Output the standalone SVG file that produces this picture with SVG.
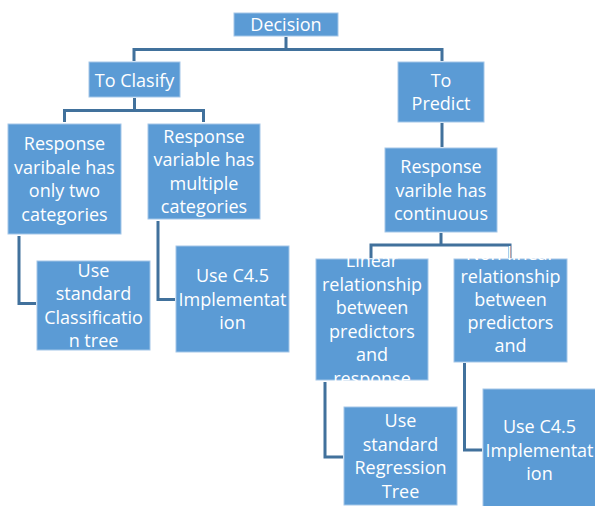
<svg xmlns="http://www.w3.org/2000/svg" width="595" height="506" viewBox="0 0 595 506">
<style>
.box{fill:#5B9BD5;stroke:#A3C6E8;stroke-width:1}
.t{font-family:"Open Sans","Liberation Sans",sans-serif;font-size:18px;fill:#FFFFFF;text-anchor:middle}
.c{fill:none;stroke:#41719C;stroke-width:3}
</style>
<rect width="595" height="506" fill="#FFFFFF"/>
<g id="connectors">
<path class="c" d="M286,37 V49.5 M134,61 V49.5 H442 V61"/>
<path class="c" d="M134.5,98 V110.5 M64.5,122 V110.5 H203.5 V122"/>
<path class="c" d="M442,123 V147"/>
<path class="c" d="M441,233 V245 M371,258 V245 H510 V258"/>
<path class="c" d="M19,236 V303.5 H36"/>
<path class="c" d="M158,221 V299.5 H175"/>
<path class="c" d="M325,382 V457 H343"/>
<path class="c" d="M464.5,363 V450 H482"/>
</g>
<g id="decision">
<rect class="box" x="234" y="13" width="104" height="23"/>
<text class="t" x="286" y="30.5">Decision</text>
</g>
<g id="to-clasify">
<rect class="box" x="89" y="62" width="91" height="35"/>
<text class="t" x="134.5" y="86.5">To Clasify</text>
</g>
<g id="to-predict">
<rect class="box" x="398" y="62" width="86" height="60"/>
<text class="t" x="441" y="86.5">To</text>
<text class="t" x="441" y="109.5">Predict</text>
</g>
<g id="two-categories">
<rect class="box" x="8" y="124" width="113" height="110"/>
<text class="t" x="64.5" y="150.25">Response</text>
<text class="t" x="64.5" y="173.75">varibale has</text>
<text class="t" x="64.5" y="197.25">only two</text>
<text class="t" x="64.5" y="220.75">categories</text>
</g>
<g id="multiple-categories">
<rect class="box" x="148" y="124" width="112" height="95"/>
<text class="t" x="204" y="142.75">Response</text>
<text class="t" x="204" y="166.25">variable has</text>
<text class="t" x="204" y="189.75">multiple</text>
<text class="t" x="204" y="213.25">categories</text>
</g>
<g id="classification-tree">
<rect class="box" x="37" y="261" width="113" height="89"/>
<text class="t" x="93.5" y="276.75">Use</text>
<text class="t" x="93.5" y="300.25">standard</text>
<text class="t" x="93.5" y="323.75">Classificatio</text>
<text class="t" x="93.5" y="347.25">n tree</text>
</g>
<g id="c45-classify">
<rect class="box" x="176" y="246" width="113" height="106"/>
<text class="t" x="232.5" y="282">Use C4.5</text>
<text class="t" x="232.5" y="305.5">Implementat</text>
<text class="t" x="232.5" y="329">ion</text>
</g>
<g id="continuous">
<rect class="box" x="385" y="148" width="112" height="84"/>
<text class="t" x="441" y="173">Response</text>
<text class="t" x="441" y="196.5">varible has</text>
<text class="t" x="441" y="220">continuous</text>
</g>
<g id="linear">
<rect class="box" x="316" y="259" width="112" height="121"/>
<text class="t" x="372" y="267.25">Linear</text>
<text class="t" x="372" y="290.75">relationship</text>
<text class="t" x="372" y="314.25">between</text>
<text class="t" x="372" y="337.75">predictors</text>
<text class="t" x="372" y="361.25">and</text>
<text class="t" x="372" y="384.75">response</text>
</g>
<g id="non-linear">
<rect class="box" x="454" y="259" width="113" height="103"/>
<text class="t" x="510.5" y="259.75">Non-linear</text>
<text class="t" x="510.5" y="283.25">relationship</text>
<text class="t" x="510.5" y="306.25">between</text>
<text class="t" x="510.5" y="329.25">predictors</text>
<text class="t" x="510.5" y="352.25">and</text>
</g>
<g id="regression-tree">
<rect class="box" x="344" y="407" width="113" height="98"/>
<text class="t" x="400.5" y="427.25">Use</text>
<text class="t" x="400.5" y="450.75">standard</text>
<text class="t" x="400.5" y="474.25">Regression</text>
<text class="t" x="400.5" y="497.75">Tree</text>
</g>
<g id="c45-predict">
<rect class="box" x="483" y="389" width="113" height="122"/>
<text class="t" x="539.5" y="433">Use C4.5</text>
<text class="t" x="539.5" y="456.5">Implementat</text>
<text class="t" x="539.5" y="480">ion</text>
</g>
</svg>
